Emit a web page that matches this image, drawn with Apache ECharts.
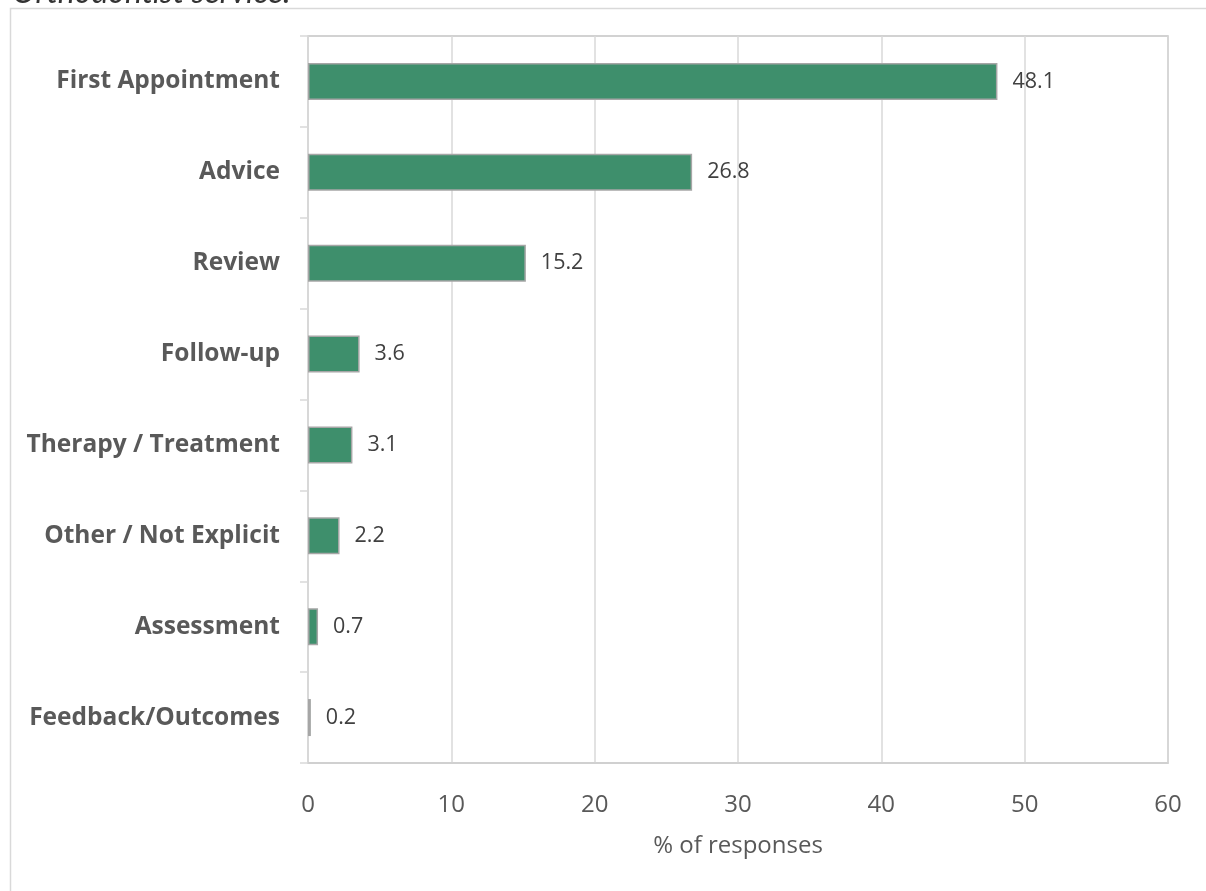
<!DOCTYPE html>
<html>
<head>
<meta charset="utf-8">
<script src="https://cdn.jsdelivr.net/npm/echarts@6/dist/echarts.min.js"></script>
<style>
html,body{margin:0;padding:0;background:#fff;}
#chart{width:1206px;height:891px;}
</style>
</head>
<body>
<div id="chart"></div>
<script>
const categories = ["First Appointment", "Advice", "Review", "Follow-up", "Therapy / Treatment", "Other / Not Explicit", "Assessment", "Feedback/Outcomes"];
const values = [48.1, 26.8, 15.2, 3.6, 3.1, 2.2, 0.7, 0.2];
const xTicks = [0, 10, 20, 30, 40, 50, 60];
const axisName = "% of responses";
const clippedTitle = "Orthodontist service.";

const chart = echarts.init(document.getElementById('chart'), null, {renderer: 'canvas'});
chart.setOption({
  backgroundColor: '#ffffff',
  animation: false,
  textStyle: {fontFamily: '"Open Sans", sans-serif'},
  graphic: [
    {type: 'rect', left: 8, top: 6, shape: {x: 0, y: 0, width: 1300, height: 1000},
     style: {fill: 'none', stroke: '#d9d9d9', lineWidth: 1.5}, silent: true},
    {type: 'text', left: 12, top: -23,
     style: {text: clippedTitle, font: 'italic 32px Lato, sans-serif', fill: '#333333'}}
  ],
  grid: {left: 308, top: 36, right: 38, bottom: 128, show: true, borderColor: '#c4c4c4', borderWidth: 1.5},
  xAxis: {
    type: 'value', min: xTicks[0], max: xTicks[xTicks.length - 1], interval: 10,
    name: axisName, nameLocation: 'middle', nameGap: 71,
    nameTextStyle: {fontSize: 24, color: '#595959'},
    axisLine: {show: true, lineStyle: {color: '#d0d0d0', width: 1.5}},
    axisTick: {show: false},
    axisLabel: {fontSize: 24, color: '#595959', margin: 30},
    splitLine: {show: true, lineStyle: {color: '#d9d9d9', width: 1.5}}
  },
  yAxis: {
    type: 'category', data: categories, inverse: true,
    axisLine: {show: true, lineStyle: {color: '#d9d9d9', width: 1.5}},
    axisTick: {show: true, length: 8, interval: 0, lineStyle: {color: '#d9d9d9', width: 1.5}},
    axisLabel: {fontSize: 24.5, fontWeight: 'bold', color: '#595959', margin: 28, interval: 0}
  },
  series: [{
    type: 'bar', data: values, barWidth: 37,
    itemStyle: {color: '#3e8f6c', borderColor: '#a6a6a6', borderWidth: 1.5},
    label: {show: true, position: 'right', distance: 15, fontSize: 21.5, color: '#404040',
            formatter: p => p.value.toFixed(1)}
  }]
});
</script>
</body>
</html>
